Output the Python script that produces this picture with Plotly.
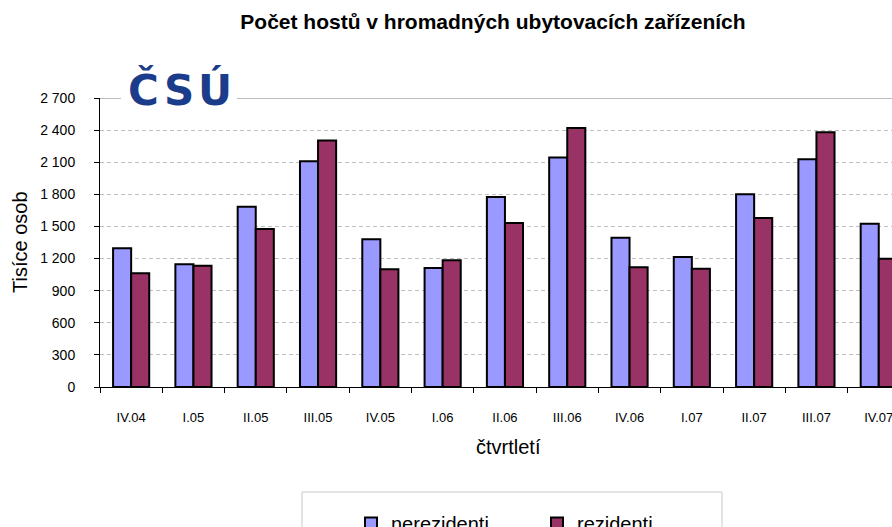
import plotly.graph_objects as go

categories = ["IV.04", "I.05", "II.05", "III.05", "IV.05", "I.06", "II.06",
              "III.06", "IV.06", "I.07", "II.07", "III.07", "IV.07"]
nerezidenti = [1296, 1146, 1685, 2109, 1380, 1112, 1775, 2143, 1395, 1215, 1800, 2127, 1526]
rezidenti = [1062, 1133, 1476, 2302, 1100, 1184, 1532, 2420, 1118, 1105, 1579, 2380, 1199]
y_ticks = [0, 300, 600, 900, 1200, 1500, 1800, 2100, 2400, 2700]
y_ticktext = ["0", "300", "600", "900", "1 200", "1 500", "1 800", "2 100", "2 400", "2 700"]

W, H = 892, 527
L, R, T = 100, 0, 98
B = H - 387
PW, PH = W - L - R, H - T - B
CAT_W = 62.3  # pixel width of one category slot in the reference


def px(xp):
    """window pixel x -> paper x"""
    return (xp - L) / PW


def py(yp):
    """window pixel y -> paper y"""
    return (H - B - yp) / PH


FONT = "Liberation Sans, Arial, sans-serif"

fig = go.Figure()
fig.add_trace(go.Bar(x=categories, y=nerezidenti, name="nerezidenti",
                     marker=dict(color="#9999FF", line=dict(color="black", width=2))))
fig.add_trace(go.Bar(x=categories, y=rezidenti, name="rezidenti",
                     marker=dict(color="#993366", line=dict(color="black", width=2))))

fig.update_layout(
    width=W, height=H,
    margin=dict(l=L, r=R, t=T, b=B, autoexpand=False),
    paper_bgcolor="white", plot_bgcolor="white",
    barmode="group", bargap=0.42, bargroupgap=0,
    font=dict(family=FONT, color="black"),
    title=dict(text="<b>Počet hostů v hromadných ubytovacích zařízeních</b>",
               x=493 / W, xref="container", xanchor="center",
               y=1 - 22 / H, yref="container", yanchor="middle",
               font=dict(size=21, family=FONT, color="black")),
    showlegend=True,
    legend=dict(orientation="h", x=px(351), xanchor="left", y=py(504), yanchor="top",
                bgcolor="rgba(0,0,0,0)", borderwidth=0,
                entrywidth=141, entrywidthmode="pixels",
                font=dict(size=20, family=FONT, color="black"),
                traceorder="normal"),
)

fig.update_xaxes(
    range=[-0.5, -0.5 + PW / CAT_W],
    showline=True, linecolor="black", linewidth=1,
    ticks="outside", tickson="boundaries", ticklen=5, tickcolor="black",
    ticklabelstandoff=18,
    tickfont=dict(size=13, family=FONT, color="black"),
    showgrid=False, zeroline=False,
)
fig.update_yaxes(
    range=[0, 2700],
    tickvals=y_ticks, ticktext=y_ticktext,
    showline=True, linecolor="black", linewidth=1,
    ticks="outside", ticklen=5, tickcolor="black",
    ticklabelstandoff=16,
    tickfont=dict(size=14, family=FONT, color="black"),
    showgrid=True, gridcolor="#c0c0c0", gridwidth=1, griddash="4px,3px",
    zeroline=False,
)

# solid top border line of the plot area
fig.add_shape(type="line", xref="paper", yref="y", x0=0, x1=1, y0=2700, y1=2700,
              line=dict(color="#bcbcbc", width=2), layer="above")
# white patch behind the logo
fig.add_shape(type="rect", xref="paper", yref="paper",
              x0=px(121), x1=px(237), y0=py(107), y1=py(66),
              fillcolor="white", line=dict(width=0), layer="above")
# legend frame
fig.add_shape(type="rect", xref="paper", yref="paper",
              x0=px(302), x1=px(722), y0=py(560), y1=py(492),
              fillcolor="rgba(0,0,0,0)", line=dict(color="#c8c8c8", width=1), layer="above")

# logo
for letter, cx in zip(["Č", "S", "Ú"], [143, 179, 215]):
    fig.add_annotation(text="<b>" + letter + "</b>", xref="paper", yref="paper",
                       x=px(cx), y=py(90), xanchor="center", yanchor="middle",
                       showarrow=False,
                       font=dict(size=42, family="DejaVu Sans", color="#1b3c8a"))

# axis titles
fig.add_annotation(text="Tisíce osob", xref="paper", yref="paper",
                   x=px(20), y=py(242), xanchor="center", yanchor="middle",
                   textangle=-90, showarrow=False,
                   font=dict(size=20, family=FONT, color="black"))
fig.add_annotation(text="čtvrtletí", xref="paper", yref="paper",
                   x=px(508), y=py(447), xanchor="center", yanchor="middle",
                   showarrow=False,
                   font=dict(size=20, family=FONT, color="black"))

# let the figure fill the window exactly, like the reference screenshot
fig.write_html("out.html",
               config={"displayModeBar": False},
               post_script="document.body.style.margin='0px';"
                           "document.body.style.overflow='hidden';")
